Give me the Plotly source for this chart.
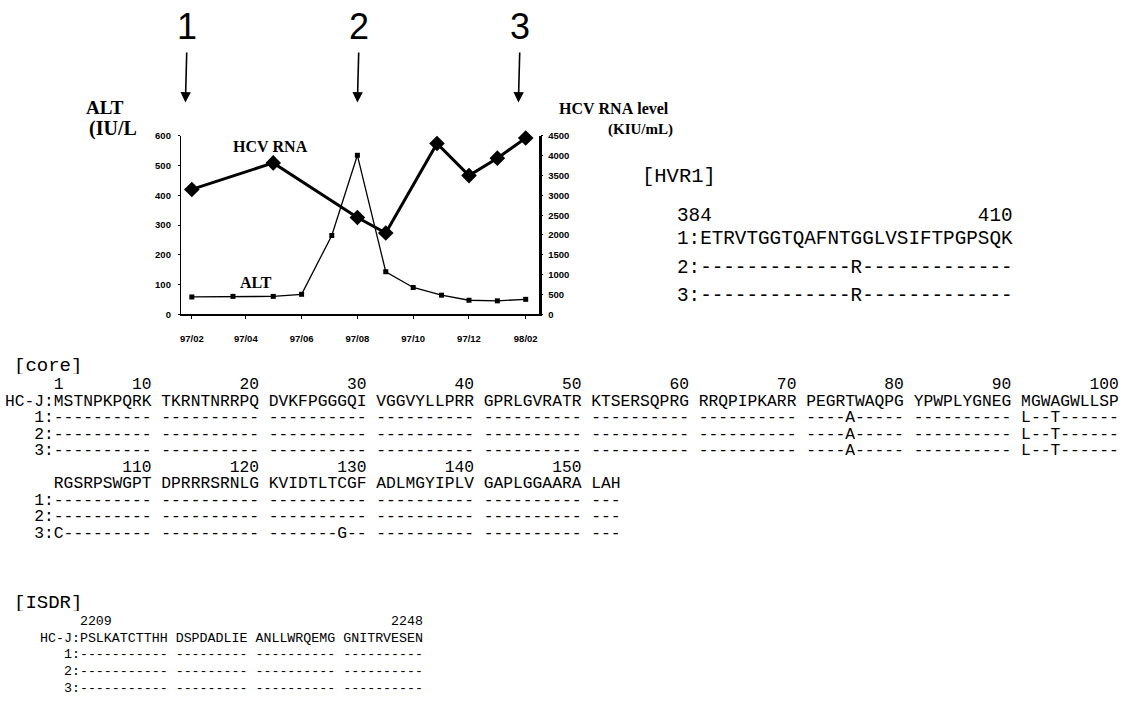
import plotly.graph_objects as go

W, H = 1122, 717

# ---------------- time course ----------------
sample_dates = ["1997-02-15", "1997-04-01", "1997-05-15", "1997-06-15", "1997-07-18",
                "1997-08-15", "1997-09-15", "1997-10-15", "1997-11-15", "1997-12-15",
                "1998-01-15", "1998-02-15"]
alt_iu = [58, 60, 60, 67, 265, 535, 143, 90, 64, 47, 45, 50]

rna_dates = ["1997-02-15", "1997-05-15", "1997-08-15", "1997-09-15", "1997-11-10",
             "1997-12-15", "1998-01-15", "1998-02-15"]
rna_kiu = [3150, 3820, 2440, 2050, 4310, 3500, 3940, 4450]

# sampling points used for sequencing
clone_labels = ["1", "2", "3"]
clone_dates = ["1997-02-08", "1997-08-15", "1998-02-07"]

# ---------------- sequences ----------------
hvr1_start, hvr1_end = 384, 410
hvr1_clone1 = "ETRVTGGTQAFNTGGLVSIFTPGPSQK"
hvr1_subs = {"2": {397: "R"}, "3": {397: "R"}}

core_blocks = ["MSTNPKPQRK", "TKRNTNRRPQ", "DVKFPGGGQI", "VGGVYLLPRR", "GPRLGVRATR",
               "KTSERSQPRG", "RRQPIPKARR", "PEGRTWAQPG", "YPWPLYGNEG", "MGWAGWLLSP",
               "RGSRPSWGPT", "DPRRRSRNLG", "KVIDTLTCGF", "ADLMGYIPLV", "GAPLGGAARA", "LAH"]
core_subs = {"1": {75: "A", 91: "L", 94: "T"},
             "2": {75: "A", 91: "L", 94: "T"},
             "3": {75: "A", 91: "L", 94: "T", 101: "C", 128: "G"}}
core_numbers = [1, 10, 20, 30, 40, 50, 60, 70, 80, 90, 100, 110, 120, 130, 140, 150]

isdr_start = 2209
isdr_blocks = ["PSLKATCTTHH", "DSPDADLIE", "ANLLWRQEMG", "GNITRVESEN"]
isdr_subs = {"1": {}, "2": {}, "3": {}}

NB = "\u00a0"
SERIF = "Liberation Serif"
MONO = "Liberation Mono"
SANS = "Liberation Sans"


def px(x):
    return x / W


def py(y):
    return 1 - y / H


annotations = []


def text(x, y, s, size, family, anchor="left", weight="normal", box=None):
    ann = dict(
        x=px(x), y=py(y), xref="paper", yref="paper", text=s.replace(" ", NB),
        showarrow=False, xanchor=anchor, yanchor="middle", borderpad=0,
        font=dict(family=family, size=size, color="black", weight=weight))
    if box is not None:
        ann["height"] = box
        ann["valign"] = "middle"
    annotations.append(ann)


def variant_rows(blocks, first_pos, subs, width=4):
    """One row per clone, dashes where identical to the reference."""
    rows = []
    for name, changes in subs.items():
        pos = first_pos
        parts = []
        for b in blocks:
            chunk = ""
            for _ in b:
                chunk += changes.get(pos, "-")
                pos += 1
            parts.append(chunk)
        rows.append(f"{name:>{width}}:" + " ".join(parts))
    return rows


def number_row(blocks, first_pos, marks, width):
    cells = [" "] * width
    pos = first_pos
    col = 5
    cols = {}
    for b in blocks:
        for _ in b:
            cols[pos] = col
            pos += 1
            col += 1
        col += 1
    for m in marks:
        if m in cols:
            s = str(m)
            end = cols[m]
            for i, ch in enumerate(s):
                cells[end - len(s) + 1 + i] = ch
    return "".join(cells).rstrip()


# ---------------- chart ----------------
fig = go.Figure()
fig.add_trace(go.Scatter(
    x=sample_dates, y=alt_iu, mode="lines+markers", name="ALT", cliponaxis=False,
    line=dict(color="black", width=1.3),
    marker=dict(symbol="square", size=5, color="black")))
fig.add_trace(go.Scatter(
    x=rna_dates, y=rna_kiu, mode="lines+markers", name="HCV RNA", yaxis="y2",
    cliponaxis=False, line=dict(color="black", width=3),
    marker=dict(symbol="diamond", size=12, color="black")))

tickfont = dict(family=SANS, size=9.5, color="black", weight="bold")
fig.update_layout(
    width=W, height=H, margin=dict(l=0, r=0, t=0, b=0),
    paper_bgcolor="white", plot_bgcolor="white", showlegend=False,
    xaxis=dict(type="date", range=["1997-02-03", "1998-03-01"],
               domain=[px(180), px(538)], tick0="1997-02-15", dtick="M2",
               tickformat="%y/%m", showline=True, linecolor="black", linewidth=1.5,
               ticks="outside", ticklen=3, tickcolor="black", showgrid=False,
               zeroline=False, tickfont=tickfont, ticklabelstandoff=12),
    yaxis=dict(range=[0, 600], domain=[py(313), py(132)], dtick=100,
               showline=True, linecolor="black", linewidth=1, ticks="outside",
               ticklen=2, tickcolor="black", showgrid=False, zeroline=False,
               tickfont=tickfont, ticklabelstandoff=5),
    yaxis2=dict(range=[0, 4500], overlaying="y", side="right", dtick=500,
                showline=True, linecolor="black", linewidth=2.5, ticks="outside",
                ticklen=2, tickcolor="black", showgrid=False, zeroline=False,
                tickfont=tickfont, ticklabelstandoff=3),
)

# axis titles and series labels
text(104, 103, "ALT", 19, SERIF, "center", "bold")
text(87, 124, "(IU/L", 20, SERIF, "left", "bold")
text(557, 104, "HCV RNA level", 16, SERIF, "left", "bold")
text(607, 125, "(KIU/mL)", 15, SERIF, "left", "bold")
text(270, 143, "HCV RNA", 16, SERIF, "center", "bold")
text(255, 281, "ALT", 16, SERIF, "center", "bold")

# sampling arrows
for lab, d in zip(clone_labels, clone_dates):
    annotations.append(dict(
        x=d, y=py(98), xref="x", yref="paper", text=lab, showarrow=True,
        ax=2, ay=-76, arrowhead=2, arrowsize=1.3, arrowwidth=1.6,
        arrowcolor="black", standoff=0, startstandoff=4,
        font=dict(family=SANS, size=36, color="black")))

# ---------------- HVR1 ----------------
hvr_size = 19.3
text(641, 173, "[HVR1]", 20.5, MONO)
hvr_rows = ["1:" + hvr1_clone1] + variant_rows([hvr1_clone1], hvr1_start, hvr1_subs, width=1)
hvr_width = len(hvr_rows[0])
hvr_num = (str(hvr1_start)
           + " " * (hvr_width - len(str(hvr1_start)) - len(str(hvr1_end)))
           + str(hvr1_end))
text(676, 213, hvr_num, hvr_size, MONO, box=20)
for r, yy in zip(hvr_rows, [237, 266, 295]):
    text(676, yy, r, hvr_size, MONO, box=20)

# ---------------- core ----------------
core_size = 16.3
text(12, 366, "[core]", 19, MONO, box=16)
row_a, row_b = core_blocks[:10], core_blocks[10:]
rows_a = ["HC-J:" + " ".join(row_a)] + variant_rows(row_a, 1, core_subs)
rows_b = ["     " + " ".join(row_b)] + variant_rows(row_b, 101, core_subs)
num_a = number_row(row_a, 1, core_numbers, len(rows_a[0]))
num_b = number_row(row_b, 101, core_numbers, len(rows_b[0]))
y0 = 384
for i, r in enumerate([num_a] + rows_a + [num_b] + rows_b):
    text(3, y0 + 16.8 * i, r, core_size, MONO, box=16)

# ---------------- ISDR ----------------
isdr_size = 13.3
text(12, 606, "[ISDR]", 19, MONO, box=16)
isdr_rows = ["HC-J:" + " ".join(isdr_blocks)] + variant_rows(isdr_blocks, isdr_start, isdr_subs)
isdr_len = sum(len(b) for b in isdr_blocks)
isdr_num = number_row(isdr_blocks, isdr_start, [isdr_start + isdr_len - 1], len(isdr_rows[0]))
isdr_num = " " * 5 + str(isdr_start) + isdr_num[5 + len(str(isdr_start)):]
for i, r in enumerate([isdr_num] + isdr_rows):
    text(38, 625 + 16.8 * i, r, isdr_size, MONO, box=16)

fig.update_layout(annotations=annotations)
fig.write_html("out.html")
